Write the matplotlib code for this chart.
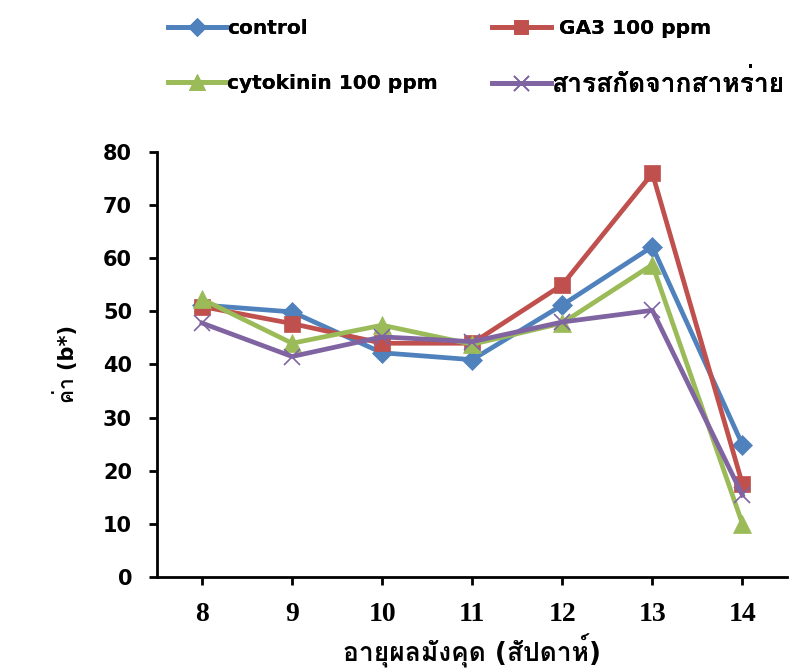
import matplotlib
matplotlib.use("Agg")
import matplotlib.pyplot as plt
from matplotlib import font_manager
from matplotlib.ft2font import FT2Font

# === Data ===
weeks = [8, 9, 10, 11, 12, 13, 14]
control = [51.2, 49.9, 42.2, 40.9, 51.2, 62.2, 24.9]
ga3 = [50.9, 47.7, 44.0, 44.0, 55.0, 76.0, 17.5]
cytokinin = [52.3, 44.0, 47.4, 43.8, 47.8, 58.8, 10.0]
seaweed = [47.8, 41.5, 45.2, 44.3, 48.0, 50.2, 15.4]

series_names = ["control", "GA3 100 ppm", "cytokinin 100 ppm", "สารสกัดจากสาหร่าย"]
y_label = "ค่า (b*)"
x_label = "อายุผลมังคุด (สัปดาห์)"


def find_thai_font():
    """First installed family that has Thai glyphs (prefer a bold face)."""
    found = None
    for f in font_manager.fontManager.ttflist:
        try:
            ft = FT2Font(f.fname)
            if ft.get_char_index(ord("ส")) and ft.get_char_index(ord("c")):
                if f.weight in ("bold", 700) or (isinstance(f.weight, int) and f.weight >= 600):
                    return f.name
                found = found or f.name
        except Exception:
            continue
    return found


thai = find_thai_font()
families = ["DejaVu Sans"] + ([thai] if thai else [])
plt.rcParams["font.family"] = families

fig = plt.figure(figsize=(7.95, 6.7), dpi=100)
ax = fig.add_axes([0.1975, 0.139, 0.793, 0.634])

styles = [
    (control, "#4F81BD", "D", 10.5),
    (ga3, "#C0504D", "s", 11.5),
    (cytokinin, "#9BBB59", "^", 12.5),
    (seaweed, "#8064A2", "x", 12),
]
handles = []
for (vals, color, marker, ms), name in zip(styles, series_names):
    h, = ax.plot(weeks, vals, color=color, lw=3.4, marker=marker, markersize=ms,
                 markeredgewidth=1.2 if marker == "x" else 0.5, label=name)
    handles.append(h)

ax.set_xlim(7.5, 14.5)
ax.set_ylim(0, 80)
ax.set_xticks(weeks)
ax.set_yticks(range(0, 81, 10))
for s in ["top", "right"]:
    ax.spines[s].set_visible(False)
for s in ["left", "bottom"]:
    ax.spines[s].set_linewidth(2)
ax.tick_params(axis="both", width=2, length=6, direction="out")
ax.tick_params(axis="x", pad=12)
ax.tick_params(axis="y", pad=12)

for lab in ax.get_yticklabels():
    lab.set_fontsize(15)
    lab.set_fontweight("bold")
for lab in ax.get_xticklabels():
    lab.set_family("Liberation Serif")
    lab.set_fontsize(20)
    lab.set_fontweight("bold")

ax.set_ylabel(y_label, fontsize=15, fontweight="bold", labelpad=18)
ax.set_xlabel(x_label, fontsize=19, fontweight="bold", labelpad=5)

# one small legend per entry so the rows line up like the original
# (x of handle start, y of row centre) in figure fractions
legend_spots = [(0.211, 0.958), (0.619, 0.958), (0.211, 0.876), (0.619, 0.874)]
legend_sizes = [14.5, 14.5, 14.5, 19]
legend_pads = [0.05, 0.4, 0.05, 0.05]
for h, name, (lx, ly), fs, tp in zip(handles, series_names, legend_spots, legend_sizes, legend_pads):
    lg = fig.legend([h], [name], loc="center left", bbox_to_anchor=(lx, ly),
                    frameon=False, prop={"size": fs, "weight": "bold"},
                    handlelength=2.9 * 14.5 / fs, handletextpad=tp * 14.5 / fs,
                    borderpad=0, borderaxespad=0, markerscale=0.9)
    fig.add_artist(lg)

fig.savefig("out.png", dpi=100)
